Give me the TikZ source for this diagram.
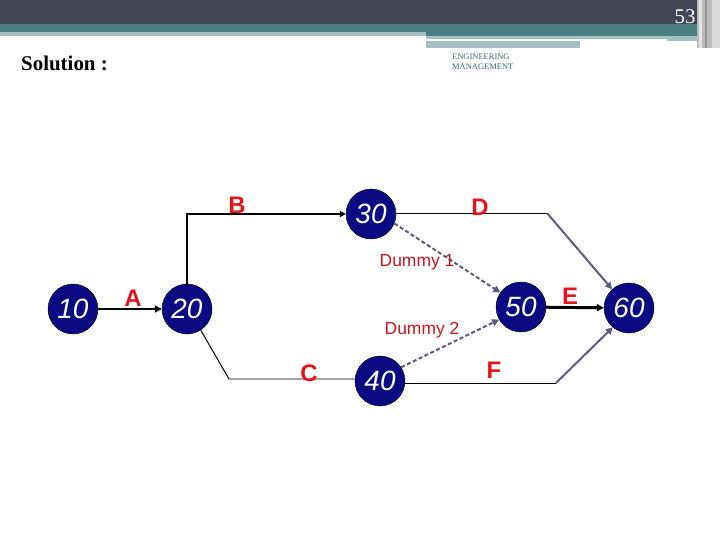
\documentclass[tikz,border=0pt]{standalone}
\usepackage{fontspec}
\setmainfont{Liberation Serif}
\setsansfont{Liberation Sans}
\usetikzlibrary{arrows.meta, positioning}

\definecolor{headdark}{HTML}{434456}
\definecolor{headteal}{HTML}{4A7F83}
\definecolor{headlight}{HTML}{A4C0C2}
\definecolor{navynode}{HTML}{0A0A82}
\definecolor{actred}{HTML}{E3141B}
\definecolor{dumred}{HTML}{C8161E}
\definecolor{slate}{HTML}{5C5C7A}

\begin{document}
\begin{tikzpicture}[
	x=1bp, y=-1bp,
	font=\sffamily,
	event/.style={
		circle,
		draw=black,
		fill=navynode,
		minimum size=50bp,
		inner sep=0pt,
		text=white,
		font=\sffamily\itshape\fontsize{28}{28}\selectfont
	},
	act/.style={
		text=actred,
		font=\sffamily\bfseries\fontsize{24}{24}\selectfont
	},
	dumlabel/.style={
		text=dumred,
		font=\sffamily\fontsize{17.5}{17.5}\selectfont
	},
	heavy/.style={
		draw=black,
		line width=3pt,
		-{Triangle[length=7bp,width=7bp]}
	},
	thin/.style={
		draw=black,
		line width=1pt
	},
	slant/.style={
		draw=slate,
		line width=2pt,
		-{Triangle[length=7bp,width=7bp]}
	},
	dummy/.style={
		draw=slate,
		line width=2pt,
		dash pattern=on 4bp off 2.5bp,
		-{Triangle[length=7bp,width=7bp]}
	}
	]
	\useasboundingbox (0,0) rectangle (720,540);
	\fill[white] (0,0) rectangle (720,540);

	% slide header
	\fill[headdark] (0,0) rectangle (697,24);
	\fill[headteal] (0,24) rectangle (697,32);
	\fill[headlight] (0,32) rectangle (426,36);
	\fill[headteal] (426,32) rectangle (697,36);
	\fill[headlight] (426,36) rectangle (697,39);
	\fill[white] (426,39) rectangle (667,41);
	\fill[headlight] (667,39) rectangle (697,41);
	\fill[headlight] (426,41) rectangle (580,48);
	\fill[gray!55] (697,0) rectangle (720,48);
	\fill[gray!20] (699,0) rectangle (702,48);
	\fill[gray!80] (705,0) rectangle (707,48);
	\fill[gray!30] (712,0) rectangle (720,48);
	\node[text=white, font=\rmfamily\fontsize{21}{21}\selectfont, inner sep=0pt] (pagenum) at (685,17) {53};

	\node[font=\rmfamily\bfseries\fontsize{21}{21}\selectfont, anchor=west, inner sep=0pt] (title) at (21,63) {Solution :};
	\node[text=headteal!80!black, font=\rmfamily\fontsize{8.5}{8.5}\selectfont, anchor=west, inner sep=0pt] (eng) at (452,57) {ENGINEERING};
	\node[text=headteal!80!black, font=\rmfamily\fontsize{8.5}{8.5}\selectfont, anchor=west, inner sep=0pt] (mgmt) at (452,67) {MANAGEMENT};

	% events
	\node[event] (n10) at (73,309) {10};
	\node[event] (n20) at (187,309) {20};
	\node[event] (n30) at (371,214) {30};
	\node[event] (n40) at (380,381) {40};
	\node[event] (n50) at (521,307) {50};
	\node[event] (n60) at (629,308) {60};

	\coordinate (cC) at (229,379);
	\coordinate (cD) at (547,213);
	\coordinate (cF) at (556,383);

	% activities
	\draw[heavy] (n10) -- (n20);
	\draw[draw=black, line width=2pt, -{Triangle[length=6bp,width=6bp]}] (n20.north) |- (n30.west);
	\draw[thin] (n20.-57) -- (cC) -- (n40.west |- cC);
	\draw[thin] (n30.east |- cD) -- (cD);
	\draw[slant] (cD) -- (n60.132);
	\draw[thin] (n40.east |- cF) -- (cF);
	\draw[slant] (cF) -- (n60.-130);
	\draw[heavy] (n50) -- (n60);
	\draw[dummy] (n30.-22) -- (n50.145);
	\draw[dummy] (n40.33) -- (n50.-150);

	\node[act] (lA) at (133,298) {A};
	\node[act] (lB) at (237,205) {B};
	\node[act] (lC) at (309,373) {C};
	\node[act] (lD) at (480,207) {D};
	\node[act] (lE) at (570,296) {E};
	\node[act] (lF) at (494,370) {F};
	\node[dumlabel] (lD1) at (417,262) {Dummy 1};
	\node[dumlabel] (lD2) at (422,330) {Dummy 2};
\end{tikzpicture}
\end{document}
